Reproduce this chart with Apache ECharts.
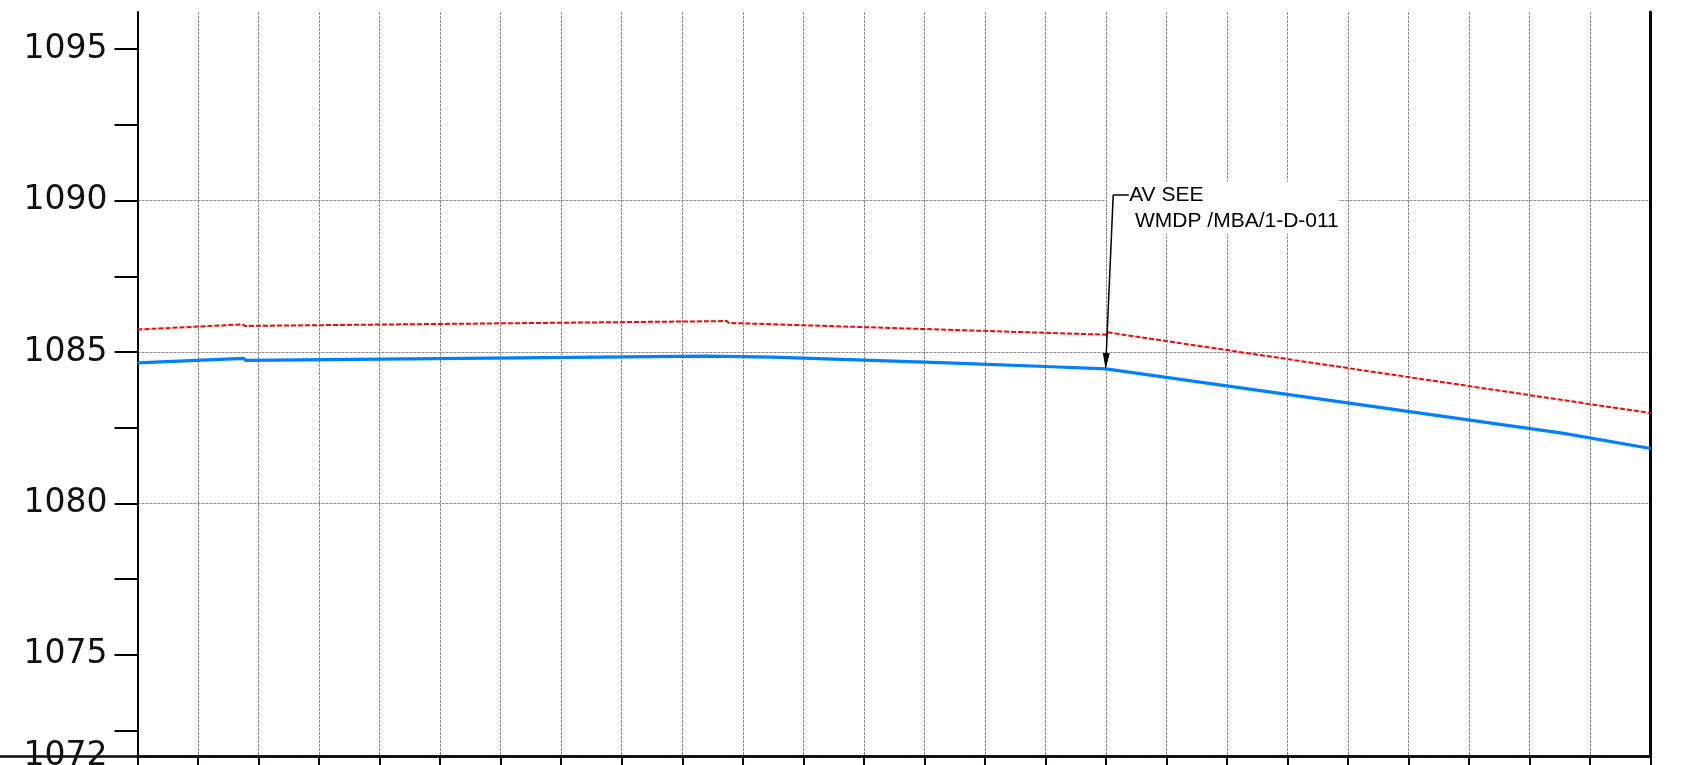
<!DOCTYPE html>
<html><head><meta charset="utf-8">
<script src="https://cdn.jsdelivr.net/npm/echarts@6/dist/echarts.min.js"></script>
<style>html,body{margin:0;padding:0;background:#fff}#c{width:1684px;height:765px}</style>
</head><body><div id="c"></div>
<script>
// ---- data ----
const xMin = 0, xMax = 25;
const yMin = 1071.63, yMax = 1096.23;
const yLabelValues = [1071.63, 1075, 1080, 1085, 1090, 1095];
const yTickValues = [1075, 1080, 1085, 1090, 1095];
const redX = [0, 1.73, 1.775, 9.735, 9.77, 16, 16.02, 25];
const redY = [1085.74, 1085.91, 1085.86, 1086.02, 1085.96, 1085.57, 1085.65, 1082.98];
const blueX = [0, 1.75, 1.79, 9.4, 10.5, 12, 13.5, 15, 16, 23.54, 25];
const blueY = [1084.64, 1084.79, 1084.72, 1084.86, 1084.83, 1084.73, 1084.63, 1084.52, 1084.44, 1082.32, 1081.81];
const annotationLines = ['AV SEE', ' WMDP /MBA/1-D-011'];
const arrowTip = [16, 1084.70];
const leaderTop = [16.12, 1090.19];
const textStart = [16.38, 1090.19];
const labelAnchor = [16.02, 1090.19];

const chart = echarts.init(document.getElementById('c'), null, {renderer: 'canvas'});
const axisColor = '#000';
const gridColor = '#8c8c8c';
const gridPos = {left: 137.5, right: 33.3, top: 12, bottom: 8.3, containLabel: false, outerBoundsMode: 'none'};

const option = {
  animation: false,
  backgroundColor: '#fff',
  grid: [
    gridPos,
    {left: 0, right: 33.3, top: 12, bottom: 8.3, containLabel: false, outerBoundsMode: 'none'}
  ],
  xAxis: [
    {
      type: 'value', gridIndex: 0, min: xMin, max: xMax, interval: 1,
      axisLine: {show: true, onZero: false, lineStyle: {color: '#0a0a14', width: 2.5}},
      axisTick: {show: true, inside: false, length: 10, lineStyle: {color: '#0a0a14', width: 2}},
      axisLabel: {show: false},
      splitLine: {show: true, showMinLine: false, showMaxLine: false, lineStyle: {color: gridColor, width: 1, type: [3, 1]}}
    },
    {
      type: 'value', gridIndex: 1, min: 0, max: 1,
      axisLine: {show: true, onZero: false, lineStyle: {color: '#0a0a14', width: 2.5}},
      axisTick: {show: false}, axisLabel: {show: false}, splitLine: {show: false}
    }
  ],
  yAxis: [
    {
      type: 'value', gridIndex: 0, min: yMin, max: yMax, position: 'left',
      axisLine: {show: true, onZero: false, lineStyle: {color: axisColor, width: 2}},
      axisTick: {show: true, inside: false, length: 23, customValues: yTickValues, lineStyle: {color: axisColor, width: 2}},
      minorTick: {show: true, splitNumber: 2, length: 23, lineStyle: {color: axisColor, width: 2}},
      axisLabel: {
        show: true, customValues: yLabelValues, margin: 30,
        formatter: v => String(Math.round(v)),
        color: '#111', fontSize: 33, fontFamily: 'DejaVu Sans',
        padding: [0, 0, 10, 0]
      },
      splitLine: {show: true, showMinLine: false, showMaxLine: false, lineStyle: {color: gridColor, width: 1, type: [3, 1]}},
      minorSplitLine: {show: false}
    },
    {
      type: 'value', gridIndex: 1, min: 0, max: 1, show: false
    },
    {
      type: 'value', gridIndex: 0, min: yMin, max: yMax, position: 'right',
      axisLine: {show: true, onZero: false, lineStyle: {color: axisColor, width: 3}},
      axisTick: {show: false}, axisLabel: {show: false}, splitLine: {show: false}
    }
  ],
  series: [
    {
      name: 'top', type: 'line', xAxisIndex: 0, yAxisIndex: 0, z: 3,
      data: redX.map((x, i) => [x, redY[i]]),
      symbol: 'none', showSymbol: false, silent: true,
      lineStyle: {color: '#ff0000', width: 2, type: [5, 2]}
    },
    {
      name: 'bottom', type: 'line', xAxisIndex: 0, yAxisIndex: 0, z: 4,
      data: blueX.map((x, i) => [x, blueY[i]]),
      symbol: 'none', showSymbol: false, silent: true,
      lineStyle: {color: '#0080ff', width: 3.2},
      markPoint: {
        silent: true, z: 4,
        symbol: 'rect', symbolSize: 0,
        label: {
          show: true, position: 'right', distance: 0, offset: [0, 13],
          formatter: annotationLines.join('\n'),
          color: '#000', fontSize: 21, fontFamily: 'Liberation Sans', lineHeight: 26,
          align: 'left', backgroundColor: '#fff', padding: [0, 0, 0, 22]
        },
        data: [{coord: labelAnchor}]
      },
      markLine: {
        silent: true, z: 6,
        symbol: ['none', 'none'],
        label: {show: false},
        emphasis: {disabled: true},
        lineStyle: {color: '#000', width: 1.5, type: 'solid'},
        data: [
          [{coord: leaderTop, symbol: 'none'}, {coord: arrowTip, symbol: 'triangle', symbolSize: [7, 16]}],
          [{coord: leaderTop, symbol: 'none'}, {coord: textStart, symbol: 'none'}]
        ]
      }
    }
  ]
};
chart.setOption(option);
</script>
</body></html>
